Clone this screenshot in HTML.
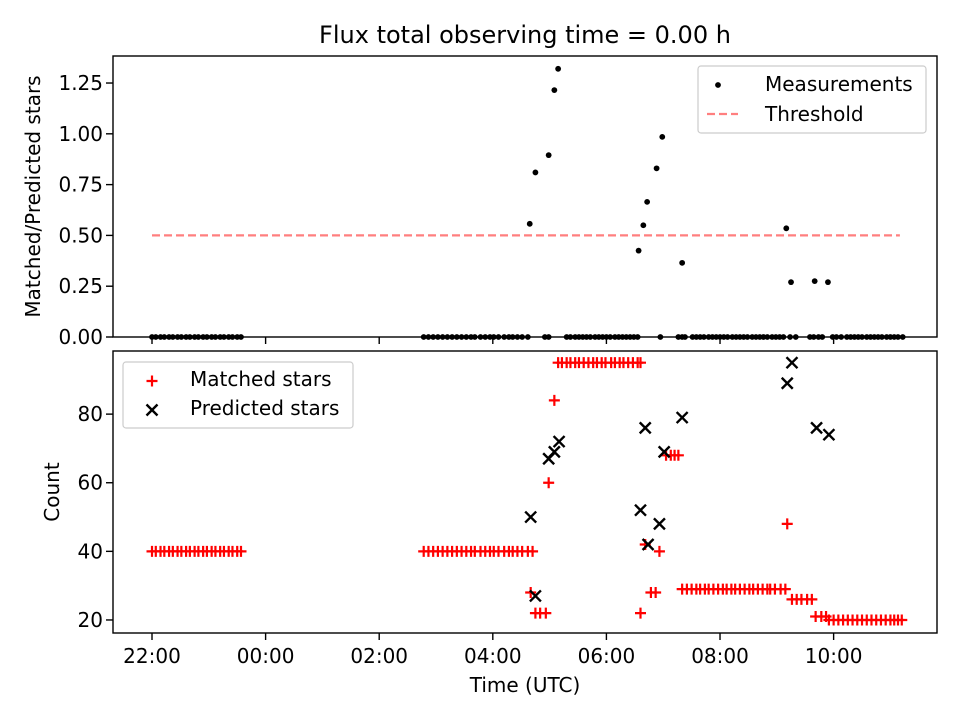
<!DOCTYPE html>
<html><head><meta charset="utf-8"><style>
html,body{margin:0;padding:0;background:#fff;}
svg{display:block;font-family:"DejaVu Sans","Liberation Sans",sans-serif;}
</style></head><body>
<svg id="fig" width="960" height="720" viewBox="0 0 960 720">
<text x="525" y="43" font-size="24" text-anchor="middle">Flux total observing time = 0.00 h</text>
<g id="top"></g>
<g id="bot"></g>
</svg>
<script>
// times in minutes since 22:00 UTC
const tickMinutes = [0,120,240,360,480,600,720];
const tickLabels = ["22:00","00:00","02:00","04:00","06:00","08:00","10:00"];
const ratioTicks = [0,0.25,0.5,0.75,1.0,1.25];
const ratioTickLabels = ["0.00","0.25","0.50","0.75","1.00","1.25"];
const countTicks = [20,40,60,80];
const threshold = 0.5;
const thresholdRange = [0,790];
const measTimes = [0,4,9,13,18,22,27,31,36,40,45,49,54,58,63,67,72,76,81,85,90,94,
 287,292,297,302,307,312,317,322,327,332,337,341,347,352,357,361,366,372,377,381,386,391,397,
 399,405,415,419,419,425,429,
 438,442,447,451,455,459,463,468,472,476,480,484,489,493,497,501,505,509,513,
 514,519,523,537,533,539,556,560,563,
 560,571,575,579,583,588,592,596,600,604,608,613,617,621,625,629,634,638,642,646,650,655,659,663,667,
 674,680,670,675,695,699,704,
 708,700,719,723,728,714,734,738,742,746,750,755,759,763,767,771,776,780,784,788,793];
const measRatio = [0,0,0,0,0,0,0,0,0,0,0,0,0,0,0,0,0,0,0,0,0,0,
 0,0,0,0,0,0,0,0,0,0,0,0,0,0,0,0,0,0,0,0,0,0,0,
 0.557,0.81,0,0,0.895,1.215,1.32,
 0,0,0,0,0,0,0,0,0,0,0,0,0,0,0,0,0,0,0,
 0.425,0.55,0.665,0,0.83,0.985,0,0,0,
 0.365,0,0,0,0,0,0,0,0,0,0,0,0,0,0,0,0,0,0,0,0,0,0,0,0,
 0,0,0.535,0.27,0,0,0,
 0,0.275,0,0,0,0.27,0,0,0,0,0,0,0,0,0,0,0,0,0,0,0];
const matchedTimes = [0,4,9,13,18,22,27,31,36,40,45,49,54,58,63,67,72,76,81,85,90,94,
 287,292,297,302,307,312,317,322,327,332,337,341,347,352,357,361,366,372,377,381,386,391,397,402,
 400,405,410,416,419,425,
 429,433,438,442,447,451,456,461,466,470,475,479,485,489,494,498,503,508,513,516,
 516,521,536,527,532,543,548,552,556,
 560,565,570,575,579,584,588,593,598,603,607,612,616,621,626,631,635,640,645,650,653,658,664,669,
 671,676,681,686,692,697,701,707,712,
 715,720,725,730,735,740,745,750,755,760,765,770,775,780,784,788,792];
const matchedCounts = [40,40,40,40,40,40,40,40,40,40,40,40,40,40,40,40,40,40,40,40,40,40,
 40,40,40,40,40,40,40,40,40,40,40,40,40,40,40,40,40,40,40,40,40,40,40,40,
 28,22,22,22,60,84,
 95,95,95,95,95,95,95,95,95,95,95,95,95,95,95,95,95,95,95,95,
 22,42,40,28,28,68,68,68,68,
 29,29,29,29,29,29,29,29,29,29,29,29,29,29,29,29,29,29,29,29,29,29,29,29,
 48,26,26,26,26,26,21,21,21,
 20,20,20,20,20,20,20,20,20,20,20,20,20,20,20,20,20];
const predTimes = [400,405,419,425,430,516,521,524,536,541,560,671,676,702,715];
const predCounts = [50,27,67,69,72,52,76,42,48,69,79,89,95,76,74];

const NS="http://www.w3.org/2000/svg";
const X0=113,X1=937,xmin=-41.2,xmax=829.2;
const xs=m=>X0+(m-xmin)/(xmax-xmin)*(X1-X0);
const T={top:56,bot:337,min:0,max:1.383};
const B={top:351,bot:633,min:16.2,max:98.4};
const ys=(ax,v)=>ax.bot-(v-ax.min)/(ax.max-ax.min)*(ax.bot-ax.top);
function mk(p,tag,at,txt){const e=document.createElementNS(NS,tag);for(const k in at)e.setAttribute(k,at[k]);if(txt!==undefined)e.textContent=txt;p.appendChild(e);return e;}
const gT=document.getElementById('top'),gB=document.getElementById('bot');
const FS=20;
function frame(g,ax,yt,yl,withLabels,ylabel){
  mk(g,'rect',{x:X0,y:ax.top,width:X1-X0,height:ax.bot-ax.top,fill:'#fff'});
  tickMinutes.forEach((m,i)=>{
    const t=mk(g,'line',{x1:xs(m),x2:xs(m),y1:ax.bot,y2:ax.bot+7,stroke:'#000','stroke-width':1.4});
    
    
    if(withLabels){
      const l=mk(g,'text',{x:xs(m),y:ax.bot+30,'font-size':FS,'text-anchor':'middle'},tickLabels[i]);
      
      
    }
  });
  yt.forEach((v,i)=>{
    const y=ys(ax,v);
    const t=mk(g,'line',{x1:X0-7,x2:X0,y1:y,y2:y,stroke:'#000','stroke-width':1.4});
    
    
    const l=mk(g,'text',{x:X0-10,y:y+7,'font-size':FS,'text-anchor':'end'},yl[i]);
    
    
  });
  const cy=(ax.top+ax.bot)/2;
  const yl2=mk(g,'text',{x:0,y:0,'font-size':FS,'text-anchor':'middle',transform:`translate(${ylabel[1]},${cy}) rotate(-90)`},ylabel[0]);
  
  
}
frame(gT,T,ratioTicks,ratioTickLabels,false,['Matched/Predicted stars',40]);
frame(gB,B,countTicks,countTicks.map(String),true,['Count',59]);

const th=mk(gT,'line',{x1:xs(thresholdRange[0]),x2:xs(thresholdRange[1]),y1:ys(T,threshold),y2:ys(T,threshold),stroke:'#ff7f7f','stroke-width':2.2,'stroke-dasharray':'8,4'});


measTimes.forEach((m,i)=>{
  const c=mk(gT,'circle',{cx:xs(m),cy:ys(T,measRatio[i]),r:2.9,fill:'#000'});
  
  
});
function plus(g,x,y,col){return mk(g,'path',{d:`M${x-5.5},${y}H${x+5.5}M${x},${y-5.5}V${y+5.5}`,stroke:col,'stroke-width':2.2});}
function cross(g,x,y){return mk(g,'path',{d:`M${x-5.5},${y-5.5}L${x+5.5},${y+5.5}M${x-5.5},${y+5.5}L${x+5.5},${y-5.5}`,stroke:'#000','stroke-width':2.4});}
matchedTimes.forEach((m,i)=>{
  const p=plus(gB,xs(m),ys(B,matchedCounts[i]),'#ff0000');
  
  
});
predTimes.forEach((m,i)=>{
  const p=cross(gB,xs(m),ys(B,predCounts[i]));
  
  
});
[gT,gB].forEach((g,k)=>{const ax=k?B:T;const r=mk(g,'rect',{x:X0,y:ax.top,width:X1-X0,height:ax.bot-ax.top,fill:'none',stroke:'#000','stroke-width':1.4});

});
const xt=mk(gB,'text',{x:525,y:692,'font-size':FS,'text-anchor':'middle'},'Time (UTC)');



const lg1=mk(gT,'g',{});


mk(lg1,'rect',{x:698,y:66,width:228,height:67,rx:3,fill:'#fff','fill-opacity':0.8,stroke:'#ccc','stroke-width':1.2});
mk(lg1,'circle',{cx:718,cy:85,r:2.9,fill:'#000'});
mk(lg1,'text',{x:765,y:91,'font-size':FS},'Measurements');
mk(lg1,'line',{x1:707,x2:738,y1:114,y2:114,stroke:'#ff7f7f','stroke-width':2.2,'stroke-dasharray':'8,4'});
mk(lg1,'text',{x:765,y:121,'font-size':FS},'Threshold');
const lg2=mk(gB,'g',{});


mk(lg2,'rect',{x:123,y:362,width:230,height:66,rx:3,fill:'#fff','fill-opacity':0.8,stroke:'#ccc','stroke-width':1.2});
plus(lg2,152,381,'#ff0000');
mk(lg2,'text',{x:190,y:386,'font-size':FS},'Matched stars');
cross(lg2,152,410);
mk(lg2,'text',{x:190,y:415,'font-size':FS},'Predicted stars');
</script>
</body></html>
